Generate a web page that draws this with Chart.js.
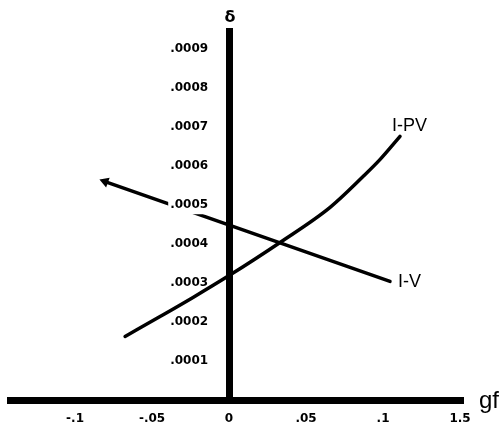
<!DOCTYPE html>
<html>
<head>
<meta charset="utf-8">
<script src="https://cdn.jsdelivr.net/npm/chart.js@4.4.0/dist/chart.umd.min.js"></script>
<style>
  html, body { margin: 0; padding: 0; background: #fff; }
  canvas { display: block; }
</style>
</head>
<body>
<canvas id="grafico" width="502" height="427"></canvas>
<script>
// Datos
const xTicks = [-0.1, -0.05, 0, 0.05, 0.1, 0.15];
const xTickLabels = ['-.1', '-.05', '0', '.05', '.1', '1.5'];
const yTicks = [0.0001, 0.0002, 0.0003, 0.0004, 0.0005, 0.0006, 0.0007, 0.0008, 0.0009];
const yTickLabels = ['.0001', '.0002', '.0003', '.0004', '.0005', '.0006', '.0007', '.0008', '.0009'];

// I-V (recta)
const ivX = [-0.0805, 0.1045];
const ivY = [0.00056, 0.000304];

// I-PV (curva)
const ipvX = [-0.0675, -0.0448, -0.0234, 0, 0.0331, 0.0656, 0.087, 0.0981, 0.111];
const ipvY = [0.000163, 0.000214, 0.000263, 0.000319, 0.000404, 0.000494, 0.000573, 0.000617, 0.000676];

const toPoints = (xs, ys) => xs.map((x, i) => ({ x: x, y: ys[i] }));
const sep = '\u00a0\u00a0\u00a0\u00a0\u00a0'; // separa las etiquetas del eje vertical

// Etiquetas de texto sobre el grafico
const textos = {
    id: 'textos',
    afterDatasetsDraw(chart) {
        const ctx = chart.ctx;
        const sx = chart.scales.x, sy = chart.scales.y;
        ctx.save();
        ctx.fillStyle = '#000';
        ctx.textBaseline = 'middle';
        ctx.textAlign = 'left';
        ctx.font = '18px "Liberation Sans", Arial, sans-serif';
        ctx.fillText('I-PV', sx.getPixelForValue(ipvX[ipvX.length - 1]) - 8, sy.getPixelForValue(ipvY[ipvY.length - 1]) - 10);
        ctx.fillText('I-V', sx.getPixelForValue(ivX[1]) + 8, sy.getPixelForValue(ivY[1]) + 1);
        ctx.font = 'bold 16px "DejaVu Sans", sans-serif';
        ctx.textAlign = 'center';
        ctx.fillText('\u03b4', sx.getPixelForValue(0) + 1, 18);
        ctx.textAlign = 'left';
        ctx.font = '24px "Liberation Sans", Arial, sans-serif';
        ctx.fillText('gf', sx.right + 16, sy.getPixelForValue(0) + 1);
        ctx.restore();
    }
};

const config = {
    type: 'scatter',
    data: {
        datasets: [{
            label: 'I-V',
            data: toPoints(ivX, ivY),
            showLine: true,
            borderColor: '#000',
            backgroundColor: '#000',
            borderWidth: 3.5,
            pointRadius: [2.5, 0],
            pointStyle: 'triangle',
            rotation: -70,
            borderCapStyle: 'round'
        }, {
            label: 'I-PV',
            data: toPoints(ipvX, ipvY),
            showLine: true,
            borderColor: '#000',
            borderWidth: 3.5,
            pointRadius: 0,
            cubicInterpolationMode: 'monotone',
            borderCapStyle: 'round'
        }]
    },
    options: {
        responsive: false,
        animation: false,
        layout: { padding: { left: 10.5, right: 39, top: 31.5, bottom: 27 } },
        plugins: {
            legend: { display: false },
            tooltip: { enabled: false }
        },
        scales: {
            x: {
                type: 'linear',
                position: { y: 0 },
                min: -0.1419,
                max: 0.1519,
                afterBuildTicks: (axis) => { axis.ticks = xTicks.map(v => ({ value: v })); },
                afterFit: (axis) => { axis.paddingLeft = 0; axis.paddingRight = 0; },
                grid: { display: false },
                border: { display: true, color: '#000', width: 7 },
                ticks: {
                    color: '#000',
                    padding: 4,
                    font: { family: '"DejaVu Sans", sans-serif', size: 12, weight: 'bold' },
                    callback: (v) => xTickLabels[xTicks.findIndex(t => Math.abs(t - v) < 1e-9)]
                }
            },
            y: {
                type: 'linear',
                position: { x: 0 },
                min: 0,
                max: 0.000945,
                afterBuildTicks: (axis) => { axis.ticks = yTicks.map(v => ({ value: v })); },
                afterFit: (axis) => { axis.paddingTop = 0; axis.paddingBottom = 0; },
                grid: { display: false },
                border: { display: true, color: '#000', width: 7, z: 2 },
                ticks: {
                    color: '#000',
                    padding: 0,
                    z: 1,
                    showLabelBackdrop: true,
                    backdropPadding: 2,
                    backdropColor: (c) => (c.tick && Math.abs(c.tick.value - 0.0005) < 1e-9) ? '#fff' : 'rgba(255,255,255,0)',
                    font: { family: '"DejaVu Sans", sans-serif', size: 12, weight: 'bold' },
                    callback: (v) => yTickLabels[yTicks.findIndex(t => Math.abs(t - v) < 1e-12)] + sep
                }
            }
        }
    },
    plugins: [textos]
};

const ctx = document.getElementById('grafico').getContext('2d');
const grafico = new Chart(ctx, config);
</script>
</body>
</html>
